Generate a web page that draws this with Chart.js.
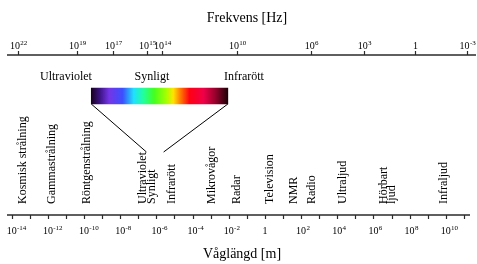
<!DOCTYPE html>
<html>
<head>
<meta charset="utf-8">
<script src="https://cdn.jsdelivr.net/npm/chart.js@4/dist/chart.umd.min.js"></script>
<style>
html,body{margin:0;padding:0;background:#fff;}
canvas{display:block;}
</style>
</head>
<body>
<canvas id="c" width="477" height="264"></canvas>
<script>
// ---- Data (x unit = log10 of wavelength in metres) ----
const wavelengthTickExp = [-14,-13,-12,-11,-10,-9,-8,-7,-6,-5,-4,-3,-2,-1,0,1,2,3,4,5,6,7,8,9,10,11];
const wavelengthLabelExp = [-14,-12,-10,-8,-6,-4,-2,0,2,4,6,8,10];
const frequencyLabelExp = [22,19,17,15,14,10,6,3,0,-3];
const frequencyTickAt = [-13.64,-10.41,-8.39,-6.54,-5.71,-1.53,2.53,5.49,8.31,11.15];

const bandNames = ["Kosmisk strålning","Gammastrålning","Röntgenstrålning","Ultraviolet","Synligt","Infrarött","Mikrovågor","Radar","Television","NMR","Radio","Ultraljud","Hörbart","ljud","Infraljud"];
const bandAt = [-13.38,-11.77,-9.84,-6.74,-6.25,-5.14,-2.93,-1.55,0.28,1.6,2.6,4.31,6.58,7.02,9.9];

const insetNames = ["Ultraviolet","Synligt","Infrarött"];
const insetNameAt = [-11.0,-6.25,-1.16];
const insetSpan = [-9.6,-2.05];        // magnified visible spectrum strip
const visibleSpan = [-6.55,-5.6];      // where it sits on the main axis
const spectrumColors = ["#1a0022","#3a1280","#7434e6","#3a50ff","#20e0ff","#20ffa0","#44ff20","#a8ff00","#ffe400","#ff8000","#ff0014","#f00048","#a00030","#1e0008"];
const spectrumStops  = [0,0.06,0.13,0.23,0.31,0.38,0.46,0.55,0.6,0.65,0.72,0.82,0.9,1];

const SERIF = '"Liberation Serif","Times New Roman",serif';

function spectrumGradient(ctx){
  const chart = ctx.chart;
  const xs = chart.scales.x;
  if(!chart.chartArea || !xs) return "#888";
  const g = chart.ctx.createLinearGradient(xs.getPixelForValue(insetSpan[0]),0,xs.getPixelForValue(insetSpan[1]),0);
  spectrumColors.forEach((c,i)=>g.addColorStop(spectrumStops[i],c));
  return g;
}

function drawPow(ctx, exp, x, y, center){
  ctx.fillStyle = "#000";
  if(exp === 0){
    ctx.font = "10px " + SERIF; ctx.textAlign = "center"; ctx.textBaseline = "alphabetic";
    ctx.fillText("1", x, y);
    return;
  }
  ctx.font = "10px " + SERIF;
  const wb = ctx.measureText("10").width;
  ctx.font = "7px " + SERIF;
  const sup = String(exp);
  const ws = ctx.measureText(sup).width;
  const left = center ? x - (wb + ws)/2 : x - wb/2;
  ctx.textAlign = "left"; ctx.textBaseline = "alphabetic";
  ctx.font = "10px " + SERIF;
  ctx.fillText("10", left, y);
  ctx.font = "7px " + SERIF;
  ctx.fillText(sup, left + wb + 0.3, y - 4);
}

const axesPlugin = {
  id: "spectrumAxes",
  afterDraw(chart){
    const ctx = chart.ctx, xs = chart.scales.x, ys = chart.scales.y;
    const area = chart.chartArea;
    ctx.save();
    // top (frequency) axis
    const yTop = area.top;
    ctx.strokeStyle = "#2a2a2a"; ctx.lineWidth = 1.5;
    ctx.beginPath(); ctx.moveTo(area.left, yTop); ctx.lineTo(476, yTop); ctx.stroke();
    ctx.lineWidth = 1.2;
    frequencyTickAt.forEach((v,i)=>{
      const px = Math.round(xs.getPixelForValue(v)) + 0.5;
      ctx.beginPath(); ctx.moveTo(px, yTop - 4); ctx.lineTo(px, yTop); ctx.stroke();
      drawPow(ctx, frequencyLabelExp[i], px, 49, true);
    });
    // bottom (wavelength) axis
    const yBot = area.bottom;
    ctx.strokeStyle = "#2a2a2a"; ctx.lineWidth = 1.5;
    ctx.beginPath(); ctx.moveTo(area.left, yBot); ctx.lineTo(470, yBot); ctx.stroke();
    ctx.lineWidth = 1.2;
    wavelengthTickExp.forEach(v=>{
      const px = Math.round(xs.getPixelForValue(v)) + 0.5;
      ctx.beginPath(); ctx.moveTo(px, yBot); ctx.lineTo(px, yBot + 4); ctx.stroke();
    });
    wavelengthLabelExp.forEach(v=>{
      drawPow(ctx, v, xs.getPixelForValue(v), 234, false);
    });
    // axis titles
    ctx.fillStyle = "#000";
    ctx.font = "14px " + SERIF; ctx.textAlign = "center"; ctx.textBaseline = "alphabetic";
    ctx.fillText("Frekvens [Hz]", 247, 22);
    ctx.fillText("Våglängd [m]", 242, 258);
    // inset labels
    ctx.font = "12px " + SERIF;
    insetNames.forEach((n,i)=>{
      ctx.fillText(n, xs.getPixelForValue(insetNameAt[i]), ys.getPixelForValue(25));
    });
    // vertical band labels
    ctx.font = "12px " + SERIF;
    bandNames.forEach((n,i)=>{
      ctx.save();
      ctx.translate(xs.getPixelForValue(bandAt[i]), ys.getPixelForValue(149));
      ctx.rotate(-Math.PI/2);
      ctx.textAlign = "left"; ctx.textBaseline = "middle";
      ctx.fillText(n, 0, 0);
      ctx.restore();
    });
    ctx.restore();
  }
};

new Chart(document.getElementById("c"), {
  type: "bar",
  data: {
    datasets: [
      {
        type: "bar",
        indexAxis: "y",
        data: [{x: insetSpan, y: 41}],
        backgroundColor: spectrumGradient,
        borderWidth: 0,
        borderSkipped: false,
        barThickness: 16,
        grouped: false
      },
      {
        type: "line",
        data: [{x: insetSpan[0], y: 49},{x: visibleSpan[0], y: 97}],
        borderColor: "#000", borderWidth: 1, pointRadius: 0, fill: false
      },
      {
        type: "line",
        data: [{x: insetSpan[1], y: 49},{x: visibleSpan[1], y: 97}],
        borderColor: "#000", borderWidth: 1, pointRadius: 0, fill: false
      }
    ]
  },
  options: {
    responsive: false,
    devicePixelRatio: 1,
    animation: false,
    layout: { padding: { left: 7, right: 1, top: 55, bottom: 49 } },
    plugins: { legend: { display: false }, tooltip: { enabled: false } },
    scales: {
      x: { type: "linear", min: -14.26, max: 11.67, display: false, offset: false, grid: { offset: false } },
      y: { type: "linear", min: 0, max: 160, reverse: true, display: false, offset: false, grid: { offset: false } }
    }
  },
  plugins: [axesPlugin]
});
</script>
</body>
</html>
